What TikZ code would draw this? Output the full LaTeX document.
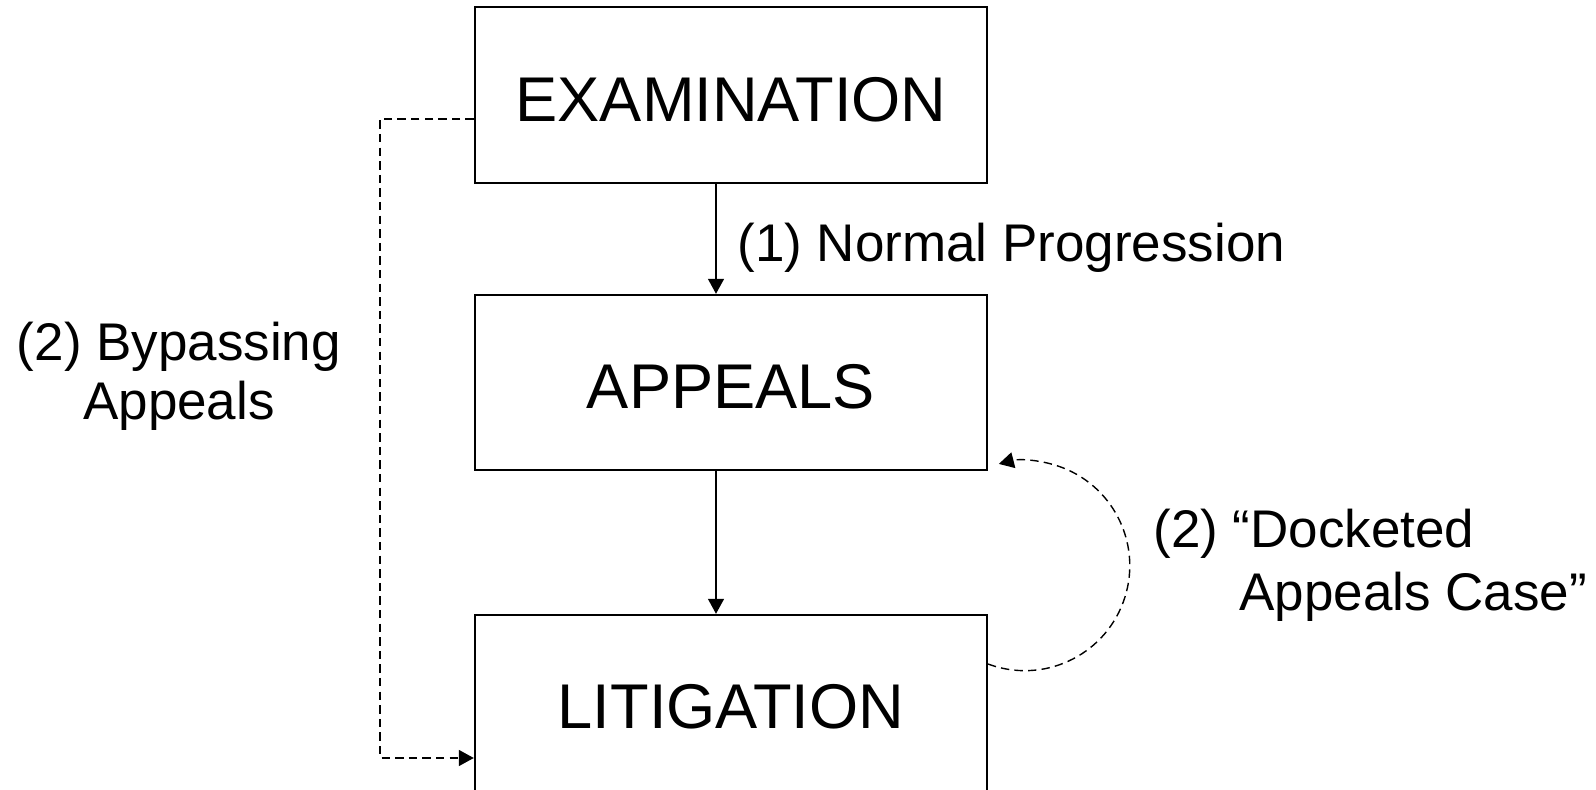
\documentclass[tikz,border=0pt]{standalone}
\usepackage{fontspec}
\setmainfont{Liberation Sans}
\usetikzlibrary{arrows.meta}
\begin{document}
\begin{tikzpicture}[x=0.5pt,y=-0.5pt,
  box/.style={draw,line width=1.2pt,minimum width=256pt,inner sep=0pt},
  btxt/.style={font=\fontsize{31.6}{36}\selectfont,inner sep=0pt},
  lbl/.style={font=\fontsize{26.5}{30}\selectfont,inner sep=0pt},
  conn/.style={line width=0.7pt,-{Triangle[length=7.5pt,width=8pt]}},
  dconn/.style={conn,dash pattern=on 4.2pt off 2.6pt}]
\useasboundingbox (0,0) rectangle (1596,790);
\node[box,minimum height=88pt] (exam) at (731,95) {};
\node[box,minimum height=87.5pt] (app) at (731,382.5) {};
\node[box,minimum height=88.5pt] (lit) at (731,703.5) {};
\node[btxt] (examt) at (731,100) {EXAMINATION};
\node[btxt] (appt) at (731,387) {APPEALS};
\node[btxt] (litt) at (731,707) {LITIGATION};
\coordinate (ax) at (716,0);
\draw[conn] (exam.south -| ax) -- (app.north -| ax);
\draw[conn] (app.south -| ax) -- (lit.north -| ax);
\coordinate (bt) at (380,119);
\coordinate (bb) at (380,758);
\draw[dconn] (exam.west |- bt) -- (bt) -- (bb) -- (lit.west |- bb);
\coordinate (cs) at (988,664);
\draw[dconn] (cs) arc[start angle=-110.5,end angle=104.3,radius=52.5pt];
\node[lbl,anchor=west] (l1) at (737,248) {(1) Normal Progression};
\node[lbl,align=center,font=\fontsize{26.5}{29.5}\selectfont] (l2) at (179,376) {(2) Bypassing\\Appeals};
\node[lbl,align=left,anchor=west,font=\fontsize{26.5}{31.5}\selectfont] (l3) at (1153,565) {(2) “Docketed\\\hspace*{43pt}Appeals Case”};
\end{tikzpicture}
\end{document}
